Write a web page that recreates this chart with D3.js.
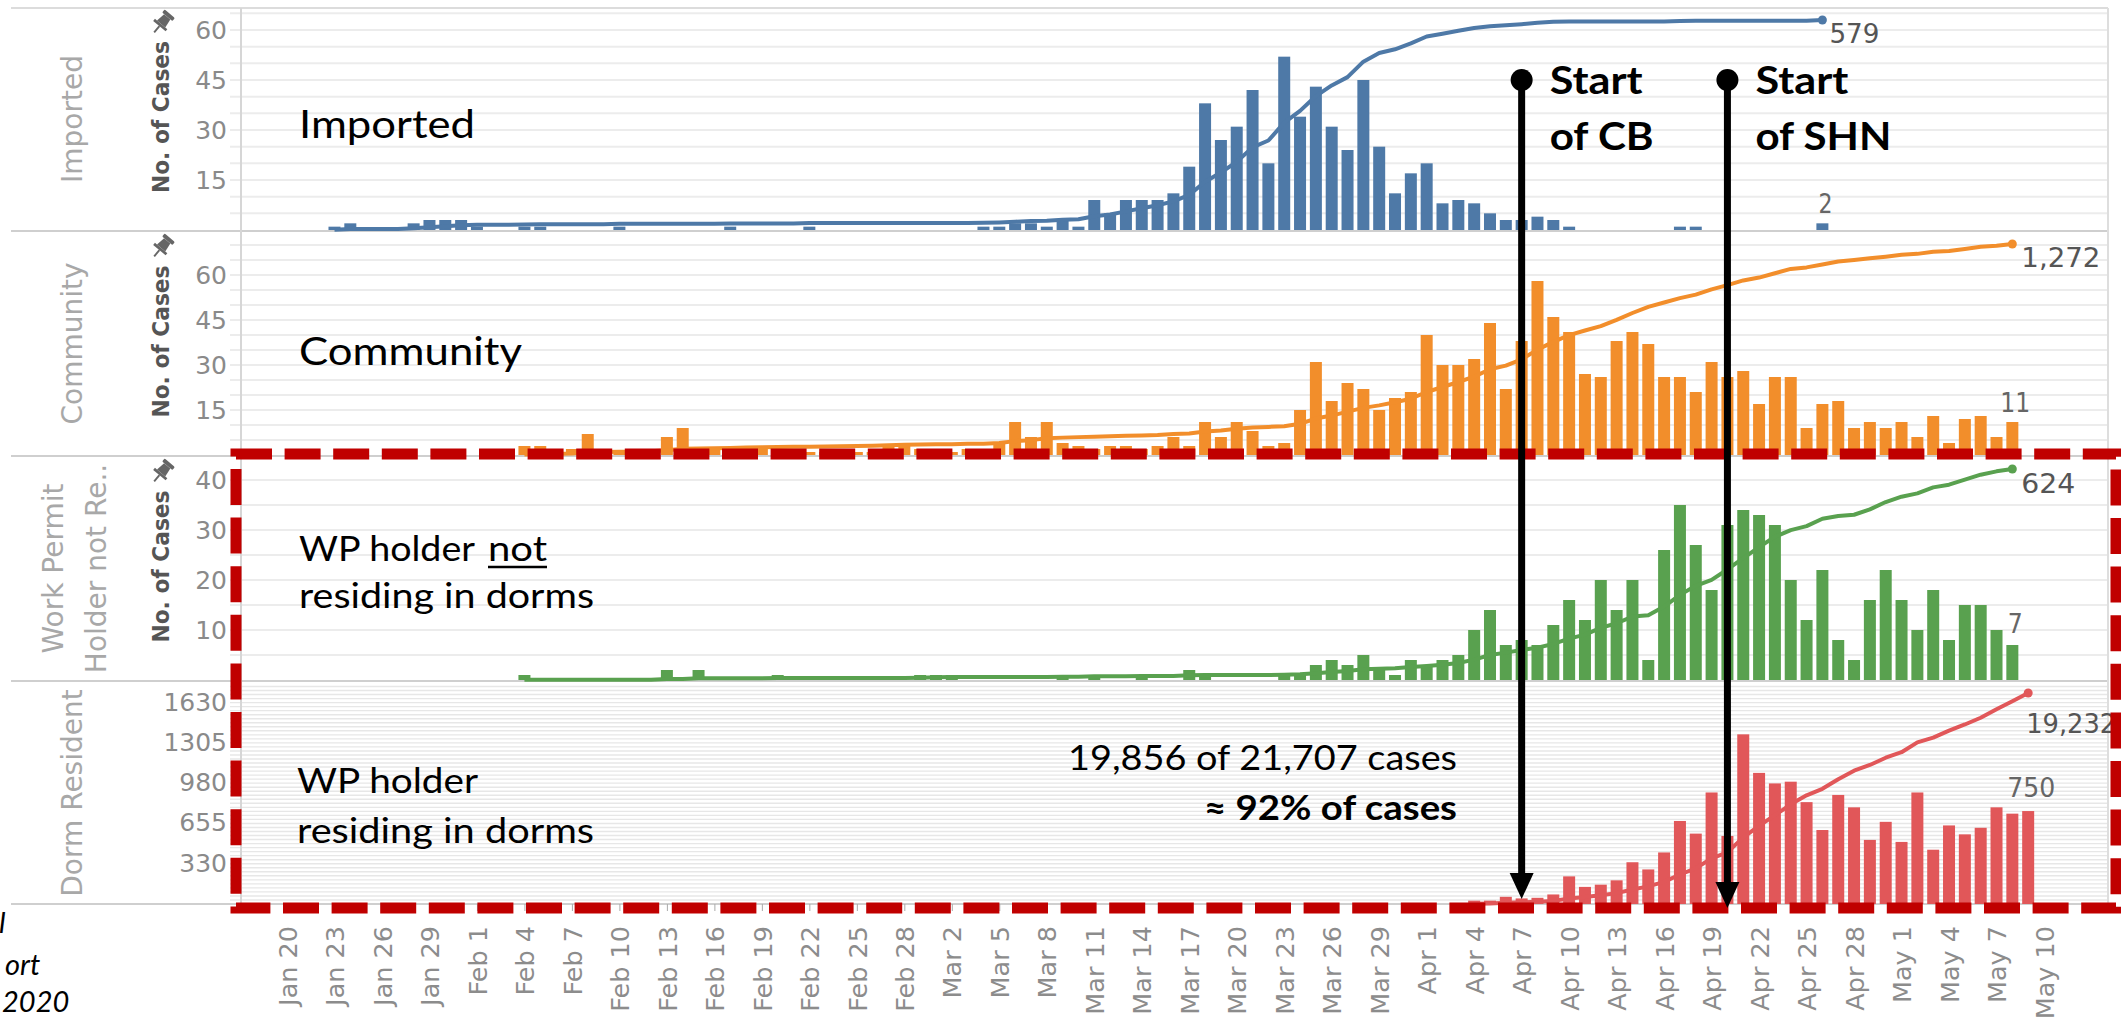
<!DOCTYPE html>
<html><head><meta charset="utf-8">
<script src="https://cdnjs.cloudflare.com/ajax/libs/d3/7.8.5/d3.min.js"></script>
<style>html,body{margin:0;padding:0;background:#fff;overflow:hidden}</style>
</head><body>
<svg id="chart" width="2121" height="1022"></svg>
<script>
// ---------------- DATA ----------------
const importedStart = "2020-01-23";
const importedCases = [
  1,2,0,0,0,2,3,3,3,1,
  0,0,1,1,0,0,0,0,1,0,
  0,0,0,0,0,1,0,0,0,0,
  1,0,0,0,0,0,0,0,0,0,
  0,1,1,2,2,1,3,1,9,5,
  9,9,9,11,19,38,27,31,42,20,
  52,34,43,31,24,45,25,11,17,20,
  8,9,8,5,3,3,4,3,1,0,
  0,0,0,0,0,1,1,0,0,0,
  0,0,0,0,2];
const communityStart = "2020-02-04";
const communityCases = [
  3,3,1,2,7,2,1,1,2,6,
  9,2,2,1,3,2,1,1,1,1,
  2,1,1,3,3,2,1,1,2,1,
  4,11,6,11,4,3,2,3,3,2,
  3,6,3,11,6,11,8,3,4,15,
  31,18,24,22,15,19,21,40,30,30,
  32,44,22,38,58,46,41,27,26,38,
  41,37,26,26,21,31,26,28,17,26,
  26,9,17,18,9,11,9,11,6,13,
  4,12,13,6,11];
const wpStart = "2020-02-04";
const wpCases = [
  1,0,0,0,0,0,0,0,0,2,
  0,2,0,0,0,0,1,0,0,0,
  0,0,0,0,0,1,1,1,0,0,
  0,0,0,0,1,0,1,0,0,1,
  0,0,2,1,0,0,0,0,1,1,
  3,4,3,5,2,1,4,3,4,5,
  10,14,7,8,7,11,16,12,20,14,
  20,4,26,35,27,18,31,34,33,31,
  20,12,22,8,4,16,22,16,10,18,
  8,15,15,10,7];
const dormStart = "2020-04-04";
const dormCases = [
  27,27,58,45,50,77,223,138,156,191,
  337,279,416,670,568,900,549,1369,1058,973,
  987,822,597,880,780,517,663,501,900,438,
  634,562,615,780,729,750];

const panelNames = [["Imported"], ["Community"], ["Work Permit", "Holder not Re.."], ["Dorm Resident"]];
const totalLabels = [579, 1272, 624, 19232];
const lastBarLabels = [2, 11, 7, 750];
const importedTicks = [15, 30, 45, 60];
const communityTicks = [15, 30, 45, 60];
const wpTicks = [10, 20, 30, 40];
const dormTicks = [330, 655, 980, 1305, 1630];
const xTickFirst = "2020-01-20", xTickLast = "2020-05-10";
const cbDate = "2020-04-07", shnDate = "2020-04-20";

// ---------------- SETUP ----------------
const svg = d3.select("#chart");
const parse = d3.utcParse("%Y-%m-%d");
const plotL = 241, plotR = 2108;
const x = d3.scaleUtc()
  .domain([Date.UTC(2020,0,20,12), Date.UTC(2020,4,10,12)])
  .range([287, 2044]);
const xc = d => x(d3.utcHour.offset(d, 12));
const barW = 12;
const fmt = d3.format(",");

function stretch(sel, w) {
  sel.attr("textLength", w).attr("lengthAdjust", "spacingAndGlyphs");
  return sel;
}

const panels = [
  {name: panelNames[0], data: importedCases, start: importedStart, color: "#4e79a7", top: 8, base: 230, yTop: 30, ticks: importedTicks, grid: 5, endY: 20, totDx: 7, totDy: 23, lastDy: -10, total: totalLabels[0], last: lastBarLabels[0], totW: 50, lastW: 14, title: true},
  {name: panelNames[1], data: communityCases, start: communityStart, color: "#f28e2b", top: 232, base: 455, yTop: 275, ticks: communityTicks, grid: 5, endY: 244, totDx: 9, totDy: 23, lastDy: -10, total: totalLabels[1], last: lastBarLabels[1], totW: 79, lastW: 30, title: true},
  {name: panelNames[2], data: wpCases, start: wpStart, color: "#59a14f", top: 457, base: 680, yTop: 480, ticks: wpTicks, grid: 5, endY: 469, totDx: 9, totDy: 24, lastDy: -12, total: totalLabels[2], last: lastBarLabels[2], totW: 54, lastW: 15, title: true},
  {name: panelNames[3], data: dormCases, start: dormStart, color: "#e15759", top: 682, base: 904, yTop: 702, ticks: dormTicks, grid: 32.5, endY: 693, totDx: -2, totDy: 40, lastDy: -14, total: totalLabels[3], last: lastBarLabels[3], totW: 90, lastW: 48, title: false}
];

svg.append("rect").attr("width", 2121).attr("height", 1022).attr("fill", "#fff");

const gGrid = svg.append("g"), gFrame = svg.append("g"), gBars = svg.append("g"),
      gLines = svg.append("g"), gLabels = svg.append("g"), gAxes = svg.append("g");

panels.forEach((p, i) => {
  const y = d3.scaleLinear().domain([0, p.ticks[p.ticks.length - 1]]).range([p.base, p.yTop]);
  const gv = d3.range(p.grid, y.invert(p.top + 1), p.grid);
  gGrid.selectAll(null).data(gv).join("line")
    .attr("x1", 230).attr("x2", plotR)
    .attr("y1", d => y(d)).attr("y2", d => y(d))
    .attr("stroke", i === 3 ? "#e7e7e7" : "#ececec")
    .attr("stroke-width", i === 3 ? 1.4 : 2);

  const s = parse(p.start);
  const rows = p.data.map((v, k) => ({date: d3.utcDay.offset(s, k), v}));
  gBars.selectAll(null).data(rows.filter(r => r.v > 0)).join("rect")
    .attr("x", r => xc(r.date) - barW / 2).attr("width", barW)
    .attr("y", r => y(r.v)).attr("height", r => y(0) - y(r.v))
    .attr("fill", p.color);

  const cum = d3.cumsum(p.data);
  const yl = d3.scaleLinear().domain([0, cum[cum.length - 1]]).range([p.base, p.endY]);
  const pts = rows.map((r, k) => [xc(r.date), yl(cum[k])]);
  gLines.append("path").attr("d", d3.line()(pts))
    .attr("fill", "none").attr("stroke", p.color).attr("stroke-width", 4)
    .attr("stroke-linejoin", "round");
  const endPt = pts[pts.length - 1];
  gLines.append("circle").attr("cx", endPt[0]).attr("cy", endPt[1]).attr("r", 4.5).attr("fill", p.color);

  stretch(gLabels.append("text").attr("x", endPt[0] + p.totDx).attr("y", endPt[1] + p.totDy)
    .attr("font-family", "DejaVu Sans").attr("font-size", 27).attr("fill", "#555")
    .text(fmt(p.total)), p.totW);
  const lastRow = rows[rows.length - 1];
  stretch(gLabels.append("text").attr("x", xc(lastRow.date) + 3 - p.lastW / 2).attr("y", y(lastRow.v) + p.lastDy)
    .attr("font-family", "DejaVu Sans").attr("font-size", 27).attr("fill", "#666")
    .text(fmt(p.last)), p.lastW);

  const ax = gAxes.append("g").attr("transform", "translate(230,0)")
    .call(d3.axisLeft(y).tickValues(p.ticks).tickSize(0).tickPadding(3).tickFormat(d3.format("d")));
  ax.select(".domain").remove();
  ax.selectAll("text").attr("font-family", "DejaVu Sans").attr("font-size", 25).attr("fill", "#8a8a8a");

  const cy = (p.top + p.base) / 2;
  const nameX = p.name.length === 1 ? [72] : [53, 96];
  p.name.forEach((t, k) => {
    gAxes.append("text")
      .attr("transform", `translate(${nameX[k]},${cy}) rotate(-90)`)
      .attr("text-anchor", "middle").attr("dy", "0.36em")
      .attr("font-family", "DejaVu Sans").attr("font-size", 28).attr("fill", "#a8a8a8")
      .text(t);
  });
  if (p.title) {
    stretch(gAxes.append("text")
      .attr("transform", `translate(161,${cy - 2}) rotate(-90)`)
      .attr("x", -76).attr("dy", "0.36em")
      .attr("font-family", "DejaVu Sans").attr("font-weight", "bold")
      .attr("font-size", 23).attr("fill", "#555")
      .text("No. of Cases"), 152);
    const pin = gAxes.append("g").attr("transform", `translate(162,${p.top + 15}) rotate(40) scale(1.35)`).attr("fill", "#666");
    pin.append("rect").attr("x", -5).attr("y", -9).attr("width", 10).attr("height", 3).attr("rx", 1);
    pin.append("path").attr("d", "M-3,-6 L3,-6 L4,1 L-4,1 Z");
    pin.append("path").attr("d", "M-6,1 L6,1 L6,3 L-6,3 Z");
    pin.append("line").attr("x1", 0).attr("y1", 3).attr("x2", 0).attr("y2", 9).attr("stroke", "#666").attr("stroke-width", 1.4);
  }
});

[8, 231, 456, 681, 904].forEach((yy, k) => {
  gFrame.append("line").attr("x1", 11).attr("x2", plotR).attr("y1", yy).attr("y2", yy)
    .attr("stroke", k === 0 ? "#dcdcdc" : "#cfcfcf").attr("stroke-width", 2);
});
gFrame.append("line").attr("x1", plotL).attr("x2", plotL).attr("y1", 8).attr("y2", 904)
  .attr("stroke", "#d6d6d6").attr("stroke-width", 2);
gFrame.append("line").attr("x1", plotR).attr("x2", plotR).attr("y1", 8).attr("y2", 904)
  .attr("stroke", "#dedede").attr("stroke-width", 2);

const tickDates = d3.utcDay.range(parse(xTickFirst), d3.utcDay.offset(parse(xTickLast), 1), 3);
const xAxis = svg.append("g").attr("transform", "translate(0,904)")
  .call(d3.axisBottom(x).tickValues(tickDates.map(d => d3.utcHour.offset(d, 12)))
    .tickSize(7).tickFormat(d3.utcFormat("%b %-d")));
xAxis.select(".domain").remove();
xAxis.selectAll(".tick line").attr("stroke", "#aaa");
xAxis.selectAll("text")
  .attr("transform", "rotate(-90)").attr("text-anchor", "end")
  .attr("x", -22).attr("y", 0).attr("dy", "0.36em")
  .attr("font-family", "DejaVu Sans").attr("font-size", 25.5).attr("fill", "#8c8c8c");

const ann = svg.append("g").attr("font-family", "Lato").attr("fill", "#000");
stretch(ann.append("text").attr("x", 299).attr("y", 138).attr("font-size", 39).text("Imported"), 176);
stretch(ann.append("text").attr("x", 299).attr("y", 365).attr("font-size", 39).text("Community"), 223);
stretch(ann.append("text").attr("x", 299).attr("y", 561).attr("font-size", 35).text("WP holder"), 176);
stretch(ann.append("text").attr("x", 488).attr("y", 561).attr("font-size", 35).text("not"), 59);
ann.append("line").attr("x1", 488).attr("x2", 547).attr("y1", 567).attr("y2", 567).attr("stroke", "#000").attr("stroke-width", 2.5);
stretch(ann.append("text").attr("x", 299).attr("y", 608).attr("font-size", 35).text("residing in dorms"), 295);
stretch(ann.append("text").attr("x", 297).attr("y", 793).attr("font-size", 35).text("WP holder"), 181);
stretch(ann.append("text").attr("x", 297).attr("y", 843).attr("font-size", 35).text("residing in dorms"), 297);
stretch(ann.append("text").attr("x", 1068).attr("y", 770).attr("font-size", 35).text("19,856 of 21,707 cases"), 389);
stretch(ann.append("text").attr("x", 1204).attr("y", 820).attr("font-size", 35).attr("font-weight", "bold").text("≈ 92% of cases"), 253);

svg.append("path").attr("d", "M236,454 H2116 V908 H236 Z")
  .attr("fill", "none").attr("stroke", "#c00000").attr("stroke-width", 11)
  .attr("stroke-dasharray", "36 12.6");

const arrows = [
  {date: parse(cbDate), l2: "of CB", w2: 104, tip: 899},
  {date: parse(shnDate), l2: "of SHN", w2: 136, tip: 908}
];
arrows.forEach(a => {
  const cx = xc(a.date);
  const g = svg.append("g");
  g.append("line").attr("x1", cx).attr("x2", cx).attr("y1", 80).attr("y2", a.tip - 20)
    .attr("stroke", "#000").attr("stroke-width", 7);
  g.append("circle").attr("cx", cx).attr("cy", 80).attr("r", 11).attr("fill", "#000");
  g.append("path").attr("d", `M${cx - 12},${a.tip - 26} L${cx + 12},${a.tip - 26} L${cx},${a.tip} Z`).attr("fill", "#000");
  stretch(g.append("text").attr("x", cx + 28).attr("y", 94).attr("font-family", "Lato").attr("font-weight", "bold").attr("font-size", 38).text("Start"), 93);
  stretch(g.append("text").attr("x", cx + 28).attr("y", 150).attr("font-family", "Lato").attr("font-weight", "bold").attr("font-size", 38).text(a.l2), a.w2);
});

const note = svg.append("g").attr("font-family", "Lato").attr("font-style", "italic").attr("font-size", 29).attr("fill", "#000");
note.append("text").attr("x", -1).attr("y", 933).text("l");
note.append("text").attr("x", 5).attr("y", 975).text("ort");
note.append("text").attr("x", 2).attr("y", 1012).text("2020");
</script>
</body></html>
